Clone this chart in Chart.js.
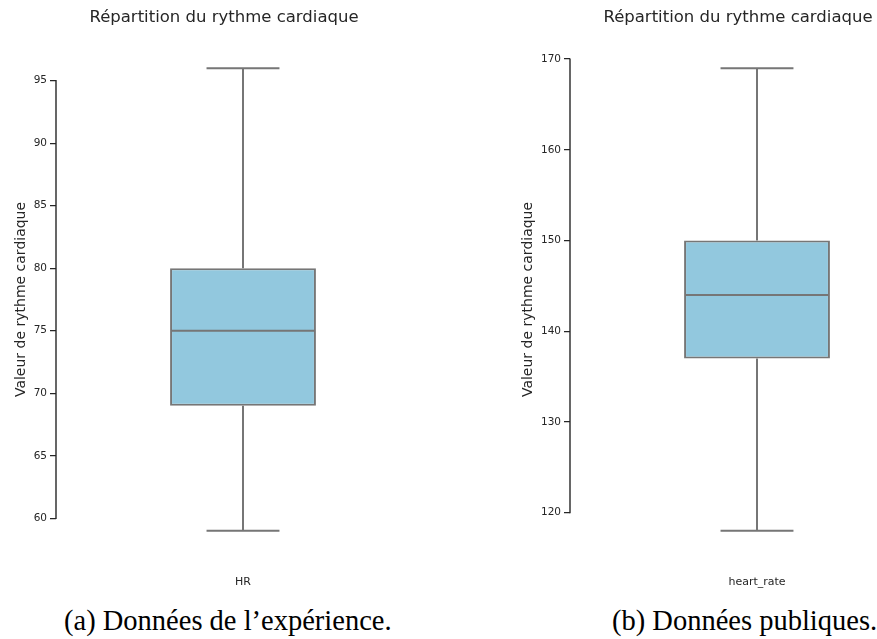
<!DOCTYPE html>
<html><head><meta charset="utf-8">
<script src="https://cdn.jsdelivr.net/npm/chart.js@4"></script>
<style>
html,body{margin:0;padding:0;background:#fff;width:877px;height:639px;overflow:hidden;position:relative}
.panel{position:absolute;top:0;width:448px;height:600px}
.cap{position:absolute;font-family:"Liberation Serif",serif;font-size:28.5px;line-height:28.5px;color:#000;white-space:nowrap}
</style></head><body>
<div class="panel" style="left:0"><canvas id="c1" width="448" height="600"></canvas></div>
<div class="panel" style="left:514px"><canvas id="c2" width="448" height="600"></canvas></div>
<div class="cap" style="left:64px;top:607px">(a) Données de l’expérience.</div>
<div class="cap" style="left:612px;top:607px">(b) Données publiques.</div>
<script>
const chartTitle = 'Répartition du rythme cardiaque';
const yAxisTitle = 'Valeur de rythme cardiaque';

const categoriesA = ['HR'];
const minA = [59];
const q1A = [69];
const medianA = [75];
const q3A = [80];
const maxA = [96];
const yTicksA = [60, 65, 70, 75, 80, 85, 90, 95];

const categoriesB = ['heart_rate'];
const minB = [118];
const q1B = [137];
const medianB = [144];
const q3B = [150];
const maxB = [169];
const yTicksB = [120, 130, 140, 150, 160, 170];

Chart.defaults.font.family = '"DejaVu Sans", sans-serif';
const TXT = '#262626';
const BOXLINE = '#767676';

const boxPlugin = {
  id: 'boxWhisk',
  afterDatasetsDraw(chart, args, opts) {
    const ctx = chart.ctx, y = chart.scales.y;
    const meta = chart.getDatasetMeta(0);
    ctx.save();
    ctx.strokeStyle = BOXLINE;
    ctx.lineWidth = 2;
    meta.data.forEach((bar, i) => {
      const cx = bar.x, half = bar.width / 2, cap = half / 2;
      const pMin = y.getPixelForValue(opts.mins[i]);
      const pMax = y.getPixelForValue(opts.maxs[i]);
      const pQ1 = y.getPixelForValue(opts.q1s[i]);
      const pQ3 = y.getPixelForValue(opts.q3s[i]);
      const pMed = y.getPixelForValue(opts.meds[i]);
      ctx.beginPath();
      ctx.moveTo(cx, pQ3); ctx.lineTo(cx, pMax);
      ctx.moveTo(cx - cap, pMax); ctx.lineTo(cx + cap, pMax);
      ctx.moveTo(cx, pQ1); ctx.lineTo(cx, pMin);
      ctx.moveTo(cx - cap, pMin); ctx.lineTo(cx + cap, pMin);
      ctx.moveTo(cx - half + 1, pMed); ctx.lineTo(cx + half - 1, pMed);
      ctx.stroke();
    });
    ctx.restore();
  }
};

const axisPlugin = {
  id: 'trimAxis',
  afterDraw(chart, args, opts) {
    const ctx = chart.ctx, y = chart.scales.y;
    const t = opts.ticks;
    const x = chart.chartArea.left;
    ctx.save();
    ctx.strokeStyle = TXT;
    ctx.lineWidth = 1.4;
    ctx.beginPath();
    ctx.moveTo(x, y.getPixelForValue(t[0]) + 0.6);
    ctx.lineTo(x, y.getPixelForValue(t[t.length - 1]) - 0.6);
    ctx.stroke();
    ctx.fillStyle = TXT;
    ctx.font = '16.5px "DejaVu Sans"';
    ctx.textAlign = 'center';
    ctx.textBaseline = 'middle';
    ctx.fillText(opts.title, chart.width / 2, 18);
    ctx.restore();
  }
};

function makeChart(id, cats, mins, q1s, meds, q3s, maxs, ticks, yTitlePad) {
  const lo = Math.min(...mins), hi = Math.max(...maxs);
  const m = (hi - lo) * 0.05;
  return new Chart(document.getElementById(id), {
    type: 'bar',
    data: {
      labels: cats,
      datasets: [{
        data: q1s.map((q, i) => [q, q3s[i]]),
        backgroundColor: '#92c8de',
        borderColor: BOXLINE,
        borderWidth: 2,
        borderSkipped: false,
        barPercentage: 0.39,
        categoryPercentage: 1
      }]
    },
    options: {
      responsive: false,
      animation: false,
      devicePixelRatio: 1,
      layout: { padding: { top: 45, right: 18, left: 0, bottom: 0 } },
      plugins: {
        legend: { display: false },
        tooltip: { enabled: false },
        title: { display: false },
        boxWhisk: { mins, q1s, meds, q3s, maxs },
        trimAxis: { ticks, title: chartTitle }
      },
      scales: {
        x: {
          type: 'category',
          grid: { display: false },
          border: { display: false },
          ticks: { color: TXT, font: { size: 11 }, padding: 14 },
          afterFit(s) { s.height = 46; }
        },
        y: {
          min: lo - m,
          max: hi + m,
          afterBuildTicks(s) { s.ticks = ticks.map(v => ({ value: v })); },
          grid: { display: true, drawOnChartArea: false, drawTicks: true, tickLength: 6, color: TXT, lineWidth: 1.25 },
          border: { display: false },
          ticks: { color: TXT, font: { size: 10.5 }, padding: 3 },
          title: { display: true, text: yAxisTitle, color: TXT, font: { size: 14 }, padding: { top: yTitlePad, bottom: 0 } },
          afterFit(s) { s.width = 56; }
        }
      }
    },
    plugins: [boxPlugin, axisPlugin]
  });
}

makeChart('c1', categoriesA, minA, q1A, medianA, q3A, maxA, yTicksA, 13);
makeChart('c2', categoriesB, minB, q1B, medianB, q3B, maxB, yTicksB, 5.5);
</script>
</body></html>
